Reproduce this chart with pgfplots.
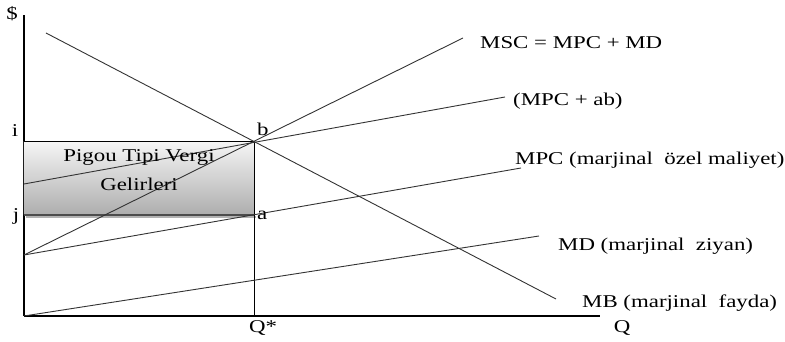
\documentclass[border=0pt]{standalone}
\usepackage{fontspec}
\setmainfont{Liberation Serif}
\usepackage{graphicx}
\usepackage{pgfplots}
\pgfplotsset{compat=1.18}
% the reference's text is stretched sideways
\newcommand{\sx}[1]{\scalebox{1.27}[1]{#1}}
\begin{document}
\begin{tikzpicture}[
    lbl/.style={font=\fontsize{18}{21}\selectfont, inner sep=0pt, text=black},
    crv/.style={line width=0.9pt, color=black!80},
]
\begin{axis}[
    x=1pt, y=1pt,
    xmin=0, xmax=576, ymin=0, ymax=301,
    axis lines=left,
    axis line style={-, line width=1.1pt, black},
    xtick=\empty, ytick=\empty,
    clip=false,
]
% Pigou tax revenue box
\addplot[draw=none, top color=black!4, bottom color=black!32]
    coordinates {(0,101) (230,101) (230,174) (0,174)} -- cycle;
\addplot[black!30, line width=2pt, mark=none] coordinates {(2,99) (232,99)};
\addplot[black!70, line width=1.3pt, mark=none] coordinates {(0,101) (230,101)};
\addplot[black, line width=1pt, mark=none] coordinates {(0,174) (230,174)};
\addplot[black, line width=1pt, mark=none] coordinates {(230,0) (230,174)};

% curves
\addplot[crv, mark=none] coordinates {(0,61) (439,278)};   % MSC
\addplot[crv, mark=none] coordinates {(0,132) (481,219)};  % MPC + ab
\addplot[crv, mark=none] coordinates {(0,61) (497,148)};   % MPC
\addplot[crv, mark=none] coordinates {(0,0) (515,80)};     % MD
\addplot[crv, mark=none] coordinates {(22,283) (532,17)};  % MB

% labels
\node[lbl, anchor=base] at (axis cs:-12,296) {\sx{\$}};
\node[lbl, anchor=base] at (axis cs:-9,179) {\sx{i}};
\node[lbl, anchor=base] at (axis cs:-8,95) {\sx{j}};
\node[lbl, anchor=base west] at (axis cs:233,180) {\sx{b}};
\node[lbl, anchor=base west] at (axis cs:233,96) {\sx{a}};
\node[lbl, anchor=base] at (axis cs:239,-17) {\sx{Q*}};
\node[lbl, anchor=base] at (axis cs:598,-17) {\sx{Q}};
\node[lbl, anchor=base] at (axis cs:115,154) {\sx{Pigou Tipi Vergi}};
\node[lbl, anchor=base] at (axis cs:115,125) {\sx{Gelirleri}};
\node[lbl, anchor=base west] at (axis cs:456,267) {\sx{MSC = MPC + MD}};
\node[lbl, anchor=base west] at (axis cs:489,210) {\sx{(MPC + ab)}};
\node[lbl, anchor=base west] at (axis cs:491,151) {\sx{MPC (marjinal\ \ özel maliyet)}};
\node[lbl, anchor=base west] at (axis cs:534,65) {\sx{MD (marjinal\ \ ziyan)}};
\node[lbl, anchor=base west] at (axis cs:558,8) {\sx{MB (marjinal\ \ fayda)}};

% page frame matching the reference size
\path (axis cs:-24,-26) rectangle (axis cs:761,316);
\end{axis}
\end{tikzpicture}
\end{document}
